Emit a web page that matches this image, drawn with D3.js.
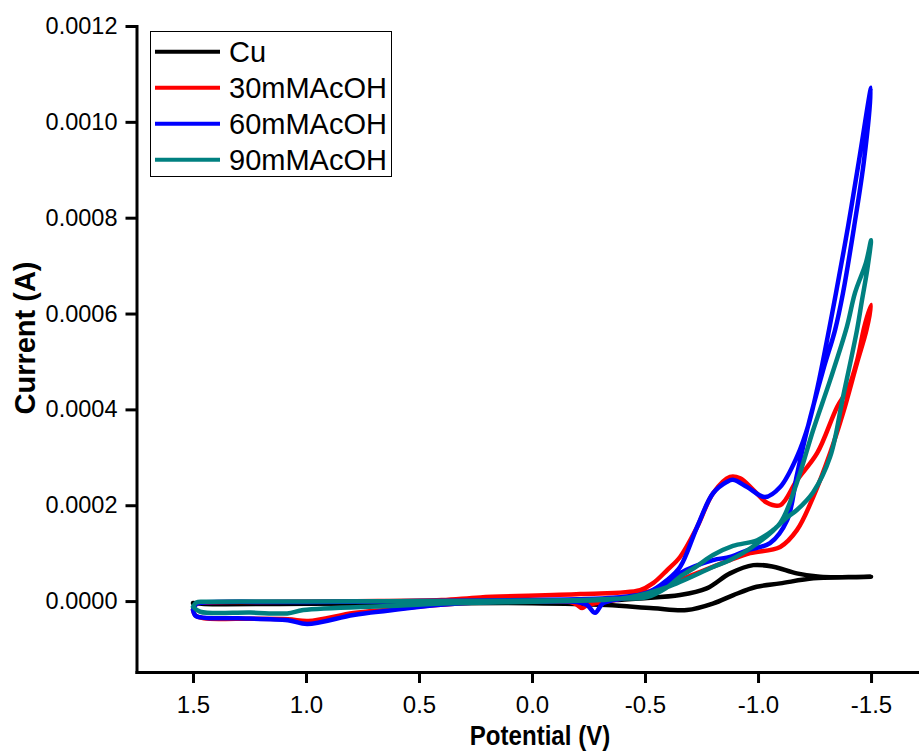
<!DOCTYPE html>
<html>
<head>
<meta charset="utf-8">
<script src="https://cdn.jsdelivr.net/npm/d3@7"></script>
<style>
  html, body { margin: 0; padding: 0; background: #fff; }
  svg { display: block; }
  text { font-family: Arial, "Liberation Sans", sans-serif; fill: #000; }
</style>
</head>
<body>
<svg id="chart" width="919" height="754"></svg>
<script>
// Cyclic voltammograms: potential (V) vs current (A), one closed scan per electrolyte.
const seriesNames  = ["Cu", "30mMAcOH", "60mMAcOH", "90mMAcOH"];
const seriesColors = ["#000000", "#ff0000", "#0000ff", "#008080"];

const xTickValues = [1.5, 1.0, 0.5, 0.0, -0.5, -1.0, -1.5];
const xTickLabels = ["1.5", "1.0", "0.5", "0.0", "-0.5", "-1.0", "-1.5"];
const yTickValues = [0, 0.0002, 0.0004, 0.0006, 0.0008, 0.0010, 0.0012];
const yTickLabels = ["0.0000", "0.0002", "0.0004", "0.0006", "0.0008", "0.0010", "0.0012"];

// [potential, current] pairs, cathodic sweep followed by the return sweep
const cuScan = [
  [1.50,-0.0000042],[1.30,-0.0000045],[1.00,-0.000004],[0.60,-0.000003],[0.20,-0.000002],
  [-0.17,-0.000001],[-0.36,0.000002],[-0.478,0.0000056],[-0.655,0.0000125],[-0.773,0.0000265],
  [-0.876,0.0000578],[-0.979,0.000075],[-1.068,0.0000716],[-1.171,0.0000578],[-1.274,0.0000507],
  [-1.40,0.0000500],[-1.50,0.0000507],
  [-1.40,0.0000495],[-1.245,0.0000474],[-1.098,0.0000369],[-0.994,0.0000298],[-0.891,0.0000125],
  [-0.803,-0.0000048],[-0.685,-0.0000188],[-0.537,-0.0000152],[-0.331,-0.0000083],
  [0.0,-0.0000045],[0.5,-0.000005],[1.0,-0.0000055],[1.45,-0.000006],[1.50,-0.0000042]
];

const acoh30Scan = [
  [1.50,-0.000018],[1.485,-0.000006],[1.45,-0.000003],[1.20,-0.000002],[0.80,-0.0000005],
  [0.40,0.000002],[0.229,0.0000077],[-0.213,0.0000146],[-0.478,0.000023],[-0.536,0.0000376],
  [-0.598,0.0000647],[-0.655,0.000092],[-0.730,0.000154],[-0.801,0.000225],[-0.876,0.000259],
  [-0.921,0.000256],[-0.979,0.000232],[-1.040,0.000205],[-1.098,0.000200],[-1.172,0.000252],
  [-1.262,0.000309],[-1.350,0.000405],[-1.400,0.000445],[-1.440,0.000505],[-1.470,0.000572],
  [-1.50,0.000618],
  [-1.480,0.000566],[-1.438,0.000497],[-1.376,0.000392],[-1.319,0.000309],
  [-1.244,0.000217],[-1.172,0.000148],[-1.098,0.000113],[-0.965,0.000100],[-0.876,0.0000856],
  [-0.730,0.0000584],[-0.580,0.0000298],[-0.434,0.000009],[-0.288,-0.0000042],[-0.244,-0.0000083],
  [-0.222,-0.0000146],[-0.200,-0.000008],[-0.169,-0.000002],[0.0,-0.000001],[0.20,-0.000002],
  [0.42,-0.0000083],[0.64,-0.000018],[0.79,-0.000025],[0.99,-0.0000417],[1.08,-0.000038],
  [1.30,-0.000037],[1.45,-0.000036],[1.49,-0.000030],[1.50,-0.000018]
];

const acoh60Scan = [
  [1.50,-0.000018],[1.485,-0.000006],[1.45,-0.000003],[1.00,-0.000002],[0.50,0.0],
  [0.0,0.000002],[-0.20,0.000004],[-0.36,0.000007],[-0.509,0.000017],[-0.598,0.000044],
  [-0.655,0.000071],[-0.730,0.000154],[-0.801,0.000225],[-0.863,0.000249],[-0.889,0.000253],
  [-0.952,0.000238],[-1.031,0.000217],[-1.098,0.000238],[-1.172,0.000301],[-1.225,0.000371],
  [-1.270,0.000461],[-1.314,0.000566],[-1.345,0.000643],[-1.398,0.000781],[-1.447,0.000920],
  [-1.50,0.001071],
  [-1.469,0.000920],[-1.425,0.000781],[-1.376,0.000643],[-1.341,0.000566],[-1.288,0.000482],
  [-1.217,0.000357],[-1.172,0.000263],[-1.129,0.000169],[-1.053,0.000121],[-0.952,0.000106],
  [-0.876,0.000092],[-0.801,0.0000856],[-0.655,0.0000584],[-0.580,0.0000292],[-0.434,0.0000083],
  [-0.315,-0.0000042],[-0.279,-0.0000244],[-0.244,-0.0000083],[-0.20,-0.000002],[0.0,-0.000001],
  [0.20,-0.000002],[0.42,-0.0000083],[0.64,-0.000020],[0.79,-0.000029],[0.995,-0.000048],
  [1.08,-0.000040],[1.30,-0.000036],[1.45,-0.000035],[1.49,-0.000030],[1.50,-0.000018]
];

const acoh90Scan = [
  [1.50,-0.000012],[1.485,-0.000003],[1.45,-0.0000015],[1.00,-0.000001],[0.50,0.0],
  [0.0,0.000001],[-0.20,0.000002],[-0.36,0.000005],[-0.509,0.0000083],[-0.593,0.000027],
  [-0.655,0.0000507],[-0.730,0.000073],[-0.801,0.000096],[-0.889,0.000115],[-0.996,0.000127],
  [-1.066,0.000148],[-1.129,0.000175],[-1.172,0.000190],[-1.244,0.000227],[-1.319,0.000301],
  [-1.376,0.000426],[-1.438,0.000566],[-1.460,0.000628],[-1.483,0.000691],[-1.50,0.000753],
  [-1.478,0.000707],[-1.429,0.000643],[-1.393,0.000572],[-1.319,0.000461],[-1.244,0.000357],
  [-1.171,0.000246],[-1.098,0.000163],[-0.987,0.000117],[-0.876,0.0000856],[-0.801,0.000071],
  [-0.598,0.0000292],[-0.434,0.0000083],[-0.302,0.000002],[-0.169,0.0],[0.349,-0.0000048],
  [0.640,-0.0000104],[1.012,-0.0000188],[1.083,-0.0000257],[1.246,-0.000024],[1.468,-0.0000223],
  [1.50,-0.000012]
];

const scans = [cuScan, acoh30Scan, acoh60Scan, acoh90Scan];

const svg = d3.select("#chart");

const x = d3.scaleLinear().domain([1.75, -1.71]).range([136.5, 918.5]);
const y = d3.scaleLinear().domain([-0.000148, 0.0012]).range([672, 26]);

// Axes
const yAxis = d3.axisLeft(y)
  .tickValues(yTickValues)
  .tickFormat((d, i) => yTickLabels[i])
  .tickSize(11).tickSizeOuter(0).tickPadding(8);

const xAxis = d3.axisBottom(x)
  .tickValues(xTickValues)
  .tickFormat((d, i) => xTickLabels[i])
  .tickSize(11).tickSizeOuter(0).tickPadding(13);

const gy = svg.append("g").attr("transform", "translate(136.5,0)").call(yAxis);
const gx = svg.append("g").attr("transform", "translate(0,672)").call(xAxis);

[gx, gy].forEach(g => {
  g.select(".domain").attr("stroke", "#000").attr("stroke-width", 3).attr("stroke-linecap", "square");
  g.selectAll(".tick line").attr("stroke", "#000").attr("stroke-width", 3);
  g.selectAll(".tick text").attr("font-family", "Arial, 'Liberation Sans', sans-serif").attr("fill", "#000");
});
gy.selectAll(".tick text").attr("font-size", "23.5px");
gx.selectAll(".tick text").attr("font-size", "24px");

// Axis titles
svg.append("text")
  .attr("transform", "translate(540,745) scale(0.86,1)")
  .attr("text-anchor", "middle")
  .attr("font-weight", "bold")
  .attr("font-size", "28px")
  .text("Potential (V)");

svg.append("text")
  .attr("transform", "translate(35,338) rotate(-90)")
  .attr("text-anchor", "middle")
  .attr("font-weight", "bold")
  .attr("font-size", "29px")
  .text("Current (A)");

// Curves
const line = d3.line()
  .x(d => x(d[0]))
  .y(d => y(d[1]))
  .curve(d3.curveCatmullRom.alpha(0.5));

svg.append("g")
  .selectAll("path")
  .data(scans)
  .join("path")
  .attr("d", line)
  .attr("fill", "none")
  .attr("stroke", (d, i) => seriesColors[i])
  .attr("stroke-width", 4.5)
  .attr("stroke-linejoin", "round")
  .attr("stroke-linecap", "round");

// Legend
const legend = svg.append("g");
legend.append("rect")
  .attr("x", 150.5).attr("y", 31.5)
  .attr("width", 241).attr("height", 145)
  .attr("fill", "#fff").attr("stroke", "#000").attr("stroke-width", 1);

const rows = legend.selectAll("g.row")
  .data(seriesNames)
  .join("g")
  .attr("class", "row")
  .attr("transform", (d, i) => `translate(0,${51.7 + i * 36})`);

rows.append("line")
  .attr("x1", 155).attr("x2", 220)
  .attr("y1", 0).attr("y2", 0)
  .attr("stroke", (d, i) => seriesColors[i])
  .attr("stroke-width", 4);

rows.append("text")
  .attr("x", 229)
  .attr("y", 10)
  .attr("font-size", "29px")
  .text(d => d);
</script>
</body>
</html>
